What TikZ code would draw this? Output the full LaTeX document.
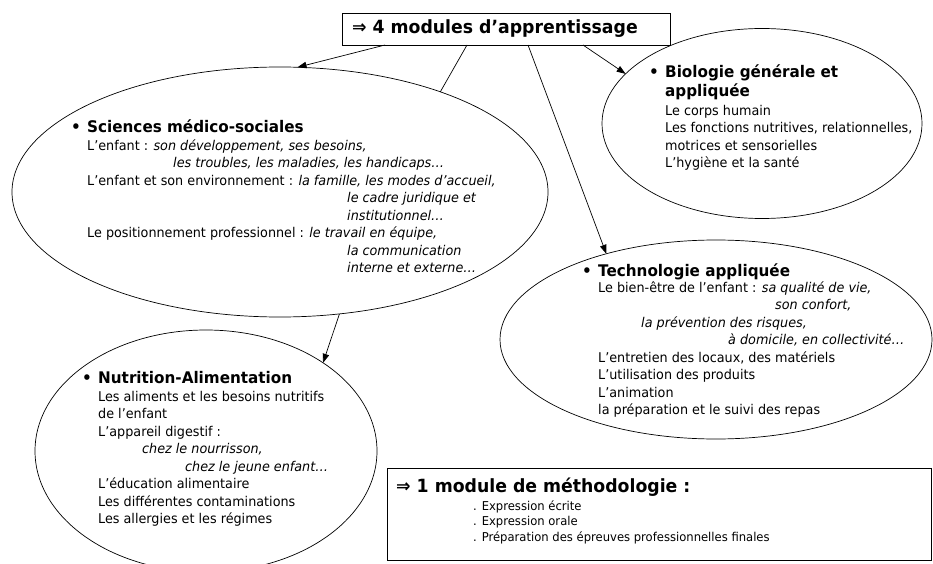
\documentclass[tikz,border=0pt]{standalone}
\usepackage{fontspec}
\setmainfont{DejaVu Sans}[FakeStretch=0.95]
\usetikzlibrary{shapes.geometric,arrows.meta}

\tikzset{
  oval/.style={draw, ellipse, inner sep=0pt, outer sep=0pt, line width=0.7pt},
  frame/.style={draw, rectangle, inner sep=0pt, outer sep=0pt, line width=0.7pt},
  title/.style={font=\fontsize{18.2}{22}\selectfont\bfseries},
  head/.style={anchor=north west, inner sep=0pt, align=left, font=\fontsize{16}{19.5}\selectfont\bfseries},
  body/.style={anchor=north west, inner sep=0pt, align=left, font=\fontsize{13.45}{17.5}\selectfont},
  small/.style={anchor=north west, inner sep=0pt, align=left, font=\fontsize{12.2}{15.5}\selectfont},
  link/.style={line width=0.7pt, -{Triangle[length=9pt,width=6.5pt]}},
}

\begin{document}
\begin{tikzpicture}[x=1pt,y=-1pt]
\useasboundingbox (0,0) rectangle (933,564);

%% boxes
\node[frame, title, minimum height=32pt, text width=308pt, inner xsep=10pt, align=left] (box) at (506,29) {⇒ 4 modules d’apprentissage};   %% top
\node[frame, minimum width=544pt, minimum height=92pt] (meth) at (659,514) {};   %% methodology


%% ovals
\node[oval, minimum width=536pt, minimum height=250pt] (sci) at (280,192) {};    %% sciences
\node[oval, minimum width=320pt, minimum height=190pt] (bio) at (762,123.5) {};  %% biologie
\node[oval, minimum width=432pt, minimum height=199pt] (tech) at (716,339.5) {}; %% technologie
\node[oval, minimum width=342pt, minimum height=242pt] (nut) at (206,451) {};    %% nutrition


%% headings
\node[head] (scihead) at (71,118.35) {\strut\makebox[16pt][l]{•}Sciences médico-sociales};
\node[head] (biohead) at (649,63.35) {\strut\makebox[16pt][l]{•}Biologie générale et\\\hspace*{16pt}appliquée};
\node[head] (techhead) at (582,262.35) {\strut\makebox[16pt][l]{•}Technologie appliquée};
\node[head] (nuthead) at (82,369.35) {\strut\makebox[16pt][l]{•}Nutrition-Alimentation};
\node[title, anchor=north west, inner sep=0pt, align=left] (methhead) at (396,476.6) {\strut ⇒ 1 module de méthodologie :};


%% texts
\node[body] (scitext) at (87,137.75) {\strut L’enfant : \textit{son développement, ses besoins,}\\
  \hspace*{86pt}\textit{les troubles, les maladies, les handicaps…}\\
  L’enfant et son environnement : \textit{la famille, les modes d’accueil,}\\
  \hspace*{260pt}\textit{le cadre juridique et}\\
  \hspace*{260pt}\textit{institutionnel…}\\
  Le positionnement professionnel : \textit{le travail en équipe,}\\
  \hspace*{260pt}\textit{la communication}\\
  \hspace*{260pt}\textit{interne et externe…}};

\node[body] (biotext) at (665,102.75) {\strut Le corps humain\\
  Les fonctions nutritives, relationnelles,\\
  motrices et sensorielles\\
  L’hygiène et la santé};

\node[body] (techtext) at (598,279.75) {\strut Le bien-être de l’enfant : \textit{sa qualité de vie,}\\
  \hspace*{177pt}\textit{son confort,}\\
  \hspace*{43pt}\textit{la prévention des risques,}\\
  \hspace*{130pt}\textit{à domicile, en collectivité…}\\
  L’entretien des locaux, des matériels\\
  L’utilisation des produits\\
  L’animation\\
  la préparation et le suivi des repas};

\node[body] (nuttext) at (98,388.75) {\strut Les aliments et les besoins nutritifs\\
  de l’enfant\\
  L’appareil digestif :\\
  \hspace*{44pt}\textit{chez le nourrisson,}\\
  \hspace*{87pt}\textit{chez le jeune enfant…}\\
  L’éducation alimentaire\\
  Les différentes contaminations\\
  Les allergies et les régimes};

\node[small] (methtext) at (473,499.15) {\strut . Expression écrite\\
  . Expression orale\\
  . Préparation des épreuves professionnelles finales};


%%% links
\draw[link] ([xshift=43pt]box.south west) -- (sci.82);      %% box-sci
\draw[line width=0.7pt] ([xshift=125pt]box.south west) -- (sci.32);   %% box-sci (to nut)
\draw[link] (sci.-64) -- (nut.37);                          %% sci-nut
\draw[link] ([xshift=186pt]box.south west) -- (tech.142);   %% box-tech
\draw[link] ([xshift=241pt]box.south west) -- (bio.160);    %% box-bio
\end{tikzpicture}
\end{document}
